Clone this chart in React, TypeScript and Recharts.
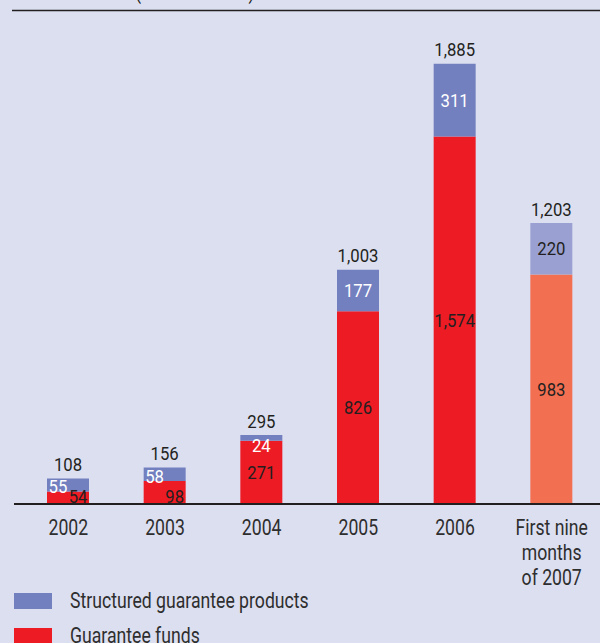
import React from "react";
import { BarChart, Bar, XAxis, YAxis, Cell, LabelList } from "recharts";

const categories = ["2002", "2003", "2004", "2005", "2006", "First nine\nmonths\nof 2007"];
const structured = [55, 58, 24, 177, 311, 220];
const funds = [54, 98, 271, 826, 1574, 983];
const totals = [108, 156, 295, 1003, 1885, 1203];

const BG = "#dcdff0";
const INK = "#231f20";
const BLUE = "#7380c0";
const RED = "#ed1c24";
const BLUE_LIGHT = "#9aa1d2";
const RED_LIGHT = "#f26f52";
const FONT = "Roboto, 'DejaVu Sans Condensed', sans-serif";

const data = categories.map((c, i) => ({
  name: c,
  funds: funds[i],
  structured: structured[i],
}));

const fmt = (v: number) => v.toLocaleString("en-US");
const isPartial = (i: number) => i === categories.length - 1;

function box(props: any) {
  const vb = props.viewBox || props;
  return {
    x: Number(vb.x ?? props.x),
    y: Number(vb.y ?? props.y),
    w: Number(vb.width ?? props.width),
    h: Number(vb.height ?? props.height),
  };
}

// condensed-looking text: roboto squeezed horizontally
const NarrowText = ({ x, y, fill, size, sx, children }: any) => (
  <text
    transform={`translate(${x},${y}) scale(${sx},1)`}
    textAnchor="middle"
    fill={fill}
    fontSize={size}
    fontFamily={FONT}
  >
    {children}
  </text>
);

// labels inside the red segment
const FundsLabel = (props: any) => {
  const { x, y, w, h } = box(props);
  const i = props.index;
  const small = funds[i] < 150;
  const cx = small ? x + w * 0.74 : x + w / 2;
  const cy = small ? y + h - 8 : y + h / 2;
  return (
    <NarrowText x={cx} y={cy + 6.5} fill={INK} size={19} sx={0.88}>
      {fmt(funds[i])}
    </NarrowText>
  );
};

// labels inside the blue segment plus the total above the bar
const StructuredLabel = (props: any) => {
  const { x, y, w, h } = box(props);
  const i = props.index;
  const small = funds[i] < 150;
  const cx = small ? x + w * 0.26 : x + w / 2;
  const cy = small ? y + h / 2 + 2 : Math.max(y + h / 2, y + 10);
  return (
    <g>
      <NarrowText x={cx} y={cy + 6.5} fill={isPartial(i) ? INK : "#ffffff"} size={19} sx={0.88}>
        {fmt(structured[i])}
      </NarrowText>
      <NarrowText x={x + w / 2} y={y - 14 + 6.5} fill={INK} size={19} sx={0.88}>
        {fmt(totals[i])}
      </NarrowText>
    </g>
  );
};

const CategoryTick = (props: any) => {
  const { x, payload } = props;
  const lines = String(payload.value).split("\n");
  return (
    <g>
      {lines.map((l, k) => (
        <NarrowText key={k} x={x} y={504 + 31 + k * 25} fill="#2e2e2e" size={21.5} sx={0.82}>
          {l}
        </NarrowText>
      ))}
    </g>
  );
};

const legendText: React.CSSProperties = {
  position: "absolute",
  left: 70,
  fontSize: 21.5,
  color: "#2e2e2e",
  lineHeight: "24px",
  whiteSpace: "nowrap",
  transform: "scaleX(0.82)",
  transformOrigin: "left center",
};

export default function App() {
  return (
    <div
      style={{
        position: "absolute",
        left: 0,
        top: 0,
        width: 600,
        height: 643,
        background: BG,
        overflow: "hidden",
        fontFamily: FONT,
      }}
    >
      <svg width={600} height={20} style={{ position: "absolute", left: 0, top: 0 }}>
        <text transform="translate(135,-1) scale(0.82,1)" fill={INK} fontSize={21.5} fontFamily={FONT}>
          (in EUR million)
        </text>
        <line x1={12} x2={600} y1={10.5} y2={10.5} stroke={INK} strokeWidth={1.5} />
      </svg>

      <BarChart
        width={600}
        height={643}
        data={data}
        margin={{ top: 37, right: 0, left: 14, bottom: 79 }}
        style={{ position: "absolute", left: 0, top: 0 }}
      >
        <YAxis hide domain={[0, 2000]} />
        <XAxis
          dataKey="name"
          height={60}
          padding={{ left: 6, right: 0 }}
          axisLine={{ stroke: INK, strokeWidth: 2 }}
          tickLine={false}
          interval={0}
          tick={<CategoryTick />}
        />
        <Bar dataKey="funds" stackId="a" barSize={42} isAnimationActive={false}>
          {data.map((_, i) => (
            <Cell key={i} fill={isPartial(i) ? RED_LIGHT : RED} />
          ))}
          <LabelList dataKey="funds" content={<FundsLabel />} />
        </Bar>
        <Bar dataKey="structured" stackId="a" barSize={42} isAnimationActive={false}>
          {data.map((_, i) => (
            <Cell key={i} fill={isPartial(i) ? BLUE_LIGHT : BLUE} />
          ))}
          <LabelList dataKey="structured" content={<StructuredLabel />} />
        </Bar>
      </BarChart>

      <div style={{ position: "absolute", left: 14, top: 593, width: 38, height: 16, background: BLUE }} />
      <div style={{ ...legendText, top: 589 }}>Structured guarantee products</div>
      <div style={{ position: "absolute", left: 14, top: 628, width: 38, height: 16, background: RED }} />
      <div style={{ ...legendText, top: 624 }}>Guarantee funds</div>
    </div>
  );
}
